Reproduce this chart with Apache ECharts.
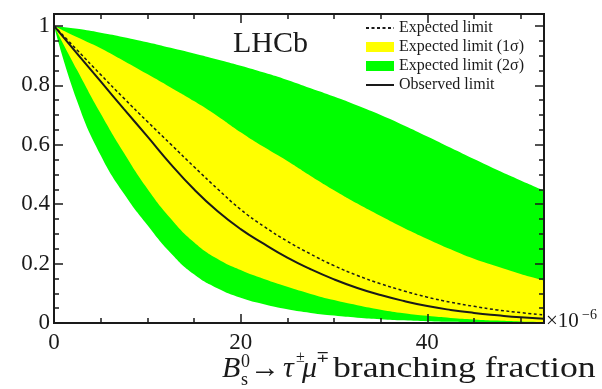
<!DOCTYPE html>
<html>
<head>
<meta charset="utf-8">
<script src="https://cdn.jsdelivr.net/npm/echarts@6/dist/echarts.min.js"></script>
<style>
  html, body { margin: 0; padding: 0; background: #ffffff; }
  #chart { width: 602px; height: 389px; }
</style>
</head>
<body>
<div id="chart"></div>
<script>
// Branching fraction (units of 1e-6) at which the CLs curves are sampled
const fraction = [0, 2.5, 5, 7.5, 10, 12.5, 15, 17.5, 20, 22.5, 25, 27.5, 30, 32.5, 35, 37.5, 40, 42.5, 45, 47.5, 50, 52.5];

// Observed CLs
const observed = [1.000, 0.906, 0.813, 0.720, 0.628, 0.535, 0.450, 0.377, 0.316, 0.266, 0.220, 0.181, 0.147, 0.118, 0.094, 0.074, 0.057, 0.044, 0.034, 0.026, 0.019, 0.014];

// Median expected CLs
const expected = [1.000, 0.918, 0.836, 0.756, 0.678, 0.602, 0.526, 0.452, 0.382, 0.325, 0.275, 0.232, 0.193, 0.160, 0.132, 0.108, 0.087, 0.070, 0.056, 0.044, 0.035, 0.027];

// Expected bands: +2 sigma, +1 sigma, -1 sigma, -2 sigma
const plus2Sigma = [1.000, 0.990, 0.977, 0.962, 0.945, 0.926, 0.907, 0.887, 0.866, 0.843, 0.818, 0.790, 0.762, 0.732, 0.700, 0.665, 0.628, 0.590, 0.552, 0.515, 0.480, 0.446];
const plus1Sigma = [1.000, 0.962, 0.925, 0.882, 0.838, 0.793, 0.747, 0.697, 0.642, 0.592, 0.545, 0.495, 0.447, 0.402, 0.360, 0.320, 0.283, 0.248, 0.216, 0.190, 0.165, 0.143];
const minus1Sigma = [1.000, 0.850, 0.705, 0.572, 0.452, 0.352, 0.272, 0.216, 0.178, 0.148, 0.122, 0.098, 0.077, 0.060, 0.045, 0.033, 0.024, 0.017, 0.012, 0.008, 0.005, 0.003];
const minus2Sigma = [1.000, 0.745, 0.565, 0.435, 0.330, 0.236, 0.164, 0.117, 0.085, 0.063, 0.046, 0.034, 0.025, 0.018, 0.013, 0.009, 0.006, 0.004, 0.003, 0.002, 0.001, 0.001];

// Axis tick labels
const xTickLabels = ['0', '20', '40'];
const yTickLabels = ['0', '0.2', '0.4', '0.6', '0.8', '1'];

const GREEN = '#00ff00';
const YELLOW = '#ffff00';
const PAPER = '#ffffff';
const INK = '#1a1a1a';
const SERIF = '"Liberation Serif", "Times New Roman", serif';

const X_MAX = 52.5;
const Y_MAX = 1.04;
const SMOOTH = 0.5;

const pairs = (ys) => fraction.map((x, i) => [x, ys[i]]);

function xAxisDef(position, interval, tickLen, withLabels) {
  return {
    type: 'value', position, min: 0, max: X_MAX, interval, z: 10,
    axisLine: { show: true, onZero: false, lineStyle: { color: INK, width: 2 } },
    axisTick: { show: true, inside: true, length: tickLen, lineStyle: { color: INK, width: 1.5 } },
    axisLabel: withLabels ? {
      show: true, margin: 8, showMaxLabel: false, color: INK,
      fontFamily: SERIF, fontSize: 23,
      formatter: (v) => (xTickLabels.indexOf(String(v)) >= 0 ? String(v) : '')
    } : { show: false },
    splitLine: { show: false }
  };
}

function yAxisDef(position, interval, tickLen, withLabels) {
  return {
    type: 'value', position, min: 0, max: Y_MAX, interval, z: 10,
    axisLine: { show: true, onZero: false, lineStyle: { color: INK, width: 2 } },
    axisTick: { show: true, inside: true, length: tickLen, lineStyle: { color: INK, width: 1.5 } },
    axisLabel: withLabels ? {
      show: true, margin: 4, showMaxLabel: false, color: INK,
      fontFamily: SERIF, fontSize: 23,
      formatter: (v) => {
        const s = String(+v.toFixed(2));
        return yTickLabels.indexOf(s) >= 0 ? s : '';
      }
    } : { show: false },
    splitLine: { show: false }
  };
}

// Each band edge is filled down to the axis; later layers paint over earlier ones,
// so the bands appear between consecutive edges.
function bandLayer(name, values, fill, z) {
  return {
    name, type: 'line', symbol: 'none', smooth: SMOOTH, z,
    color: fill,
    lineStyle: { width: 0, opacity: 0 },
    areaStyle: { color: fill, opacity: 1, origin: 'start' },
    data: pairs(values)
  };
}

const chart = echarts.init(document.getElementById('chart'), null, { renderer: 'canvas' });

chart.setOption({
  animation: false,
  backgroundColor: PAPER,
  grid: { left: 54, right: 58, top: 14, bottom: 66, containLabel: false },
  xAxis: [
    xAxisDef('bottom', 20, 9, true),
    xAxisDef('bottom', 5, 5, false),
    xAxisDef('top', 20, 9, false),
    xAxisDef('top', 5, 5, false)
  ],
  yAxis: [
    yAxisDef('left', 0.2, 9, true),
    yAxisDef('left', 0.05, 5, false),
    yAxisDef('right', 0.2, 9, false),
    yAxisDef('right', 0.05, 5, false)
  ],
  legend: {
    orient: 'vertical', left: 365, top: 20,
    itemWidth: 28, itemHeight: 10, itemGap: 3, padding: 0,
    textStyle: { fontFamily: SERIF, fontSize: 16, color: INK },
    data: [
      { name: 'Expected limit', itemStyle: { opacity: 0 } },
      { name: 'Expected limit (1σ)', icon: 'rect' },
      { name: 'Expected limit (2σ)', icon: 'rect' },
      { name: 'Observed limit', itemStyle: { opacity: 0 } }
    ]
  },
  series: [
    bandLayer('Expected limit (2σ)', plus2Sigma, GREEN, 1),
    bandLayer('Expected limit (1σ)', plus1Sigma, YELLOW, 1),
    bandLayer('Expected limit (2σ)', minus1Sigma, GREEN, 1),
    bandLayer('below band', minus2Sigma, PAPER, 1),
    {
      name: 'Expected limit', type: 'line', symbol: 'none', smooth: SMOOTH, z: 4,
      color: INK,
      lineStyle: { color: INK, width: 1.5, type: [3, 2.5] },
      data: pairs(expected)
    },
    {
      name: 'Observed limit', type: 'line', symbol: 'none', smooth: SMOOTH, z: 5,
      color: INK,
      lineStyle: { color: INK, width: 2 },
      data: pairs(observed)
    }
  ],
  graphic: [
    { type: 'text', x: 233, y: 44, z: 20,
      style: { text: 'LHCb', font: '30px ' + SERIF, fill: INK, textVerticalAlign: 'middle' } },
    // x-axis title: B_s^0 -> tau mu branching fraction
    { type: 'text', x: 222, y: 369, z: 20,
      style: { text: 'B', font: 'italic 30px ' + SERIF, fill: INK, textVerticalAlign: 'middle' } },
    { type: 'text', x: 241, y: 362, z: 20,
      style: { text: '0', font: '18px ' + SERIF, fill: INK, textVerticalAlign: 'middle' } },
    { type: 'text', x: 241, y: 380, z: 20,
      style: { text: 's', font: '18px ' + SERIF, fill: INK, textVerticalAlign: 'middle' } },
    { type: 'text', x: 250, y: 369, z: 20,
      style: { text: '→', font: '30px ' + SERIF, fill: INK, textVerticalAlign: 'middle' } },
    { type: 'text', x: 283, y: 369, z: 20,
      style: { text: 'τ', font: 'italic 30px ' + SERIF, fill: INK, textVerticalAlign: 'middle' } },
    { type: 'text', x: 296, y: 358, z: 20,
      style: { text: '±', font: '16px ' + SERIF, fill: INK, textVerticalAlign: 'middle' } },
    { type: 'text', x: 302, y: 369, z: 20,
      style: { text: 'μ', font: 'italic 30px ' + SERIF, fill: INK, textVerticalAlign: 'middle' } },
    { type: 'text', x: 316, y: 358, z: 20,
      style: { text: '∓', font: '16px ' + SERIF, fill: INK, textVerticalAlign: 'middle' } },
    { type: 'text', x: 333, y: 369, z: 20, scaleX: 1.19,
      style: { text: 'branching fraction', font: '30px ' + SERIF, fill: INK, textVerticalAlign: 'middle' } },
    // exponent of the x axis
    { type: 'text', x: 546, y: 321, z: 20,
      style: { text: '×10', font: '21px ' + SERIF, fill: INK, textVerticalAlign: 'middle' } },
    { type: 'text', x: 582, y: 315, z: 20,
      style: { text: '−6', font: '14px ' + SERIF, fill: INK, textVerticalAlign: 'middle' } }
  ]
});
</script>
</body>
</html>
